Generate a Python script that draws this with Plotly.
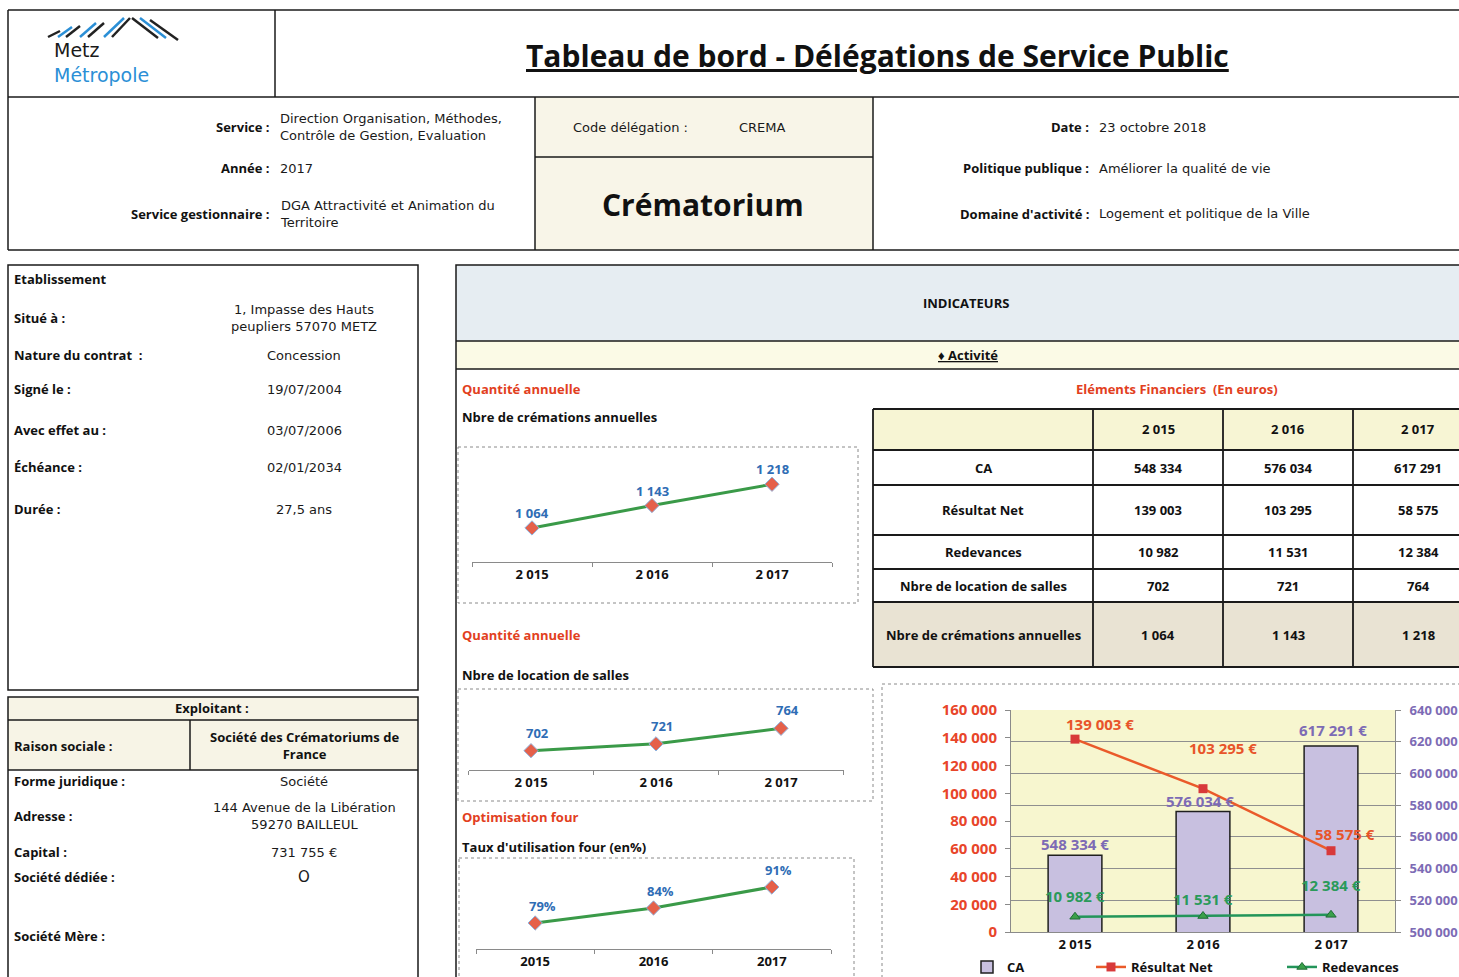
import plotly.graph_objects as go

W, H = 1459, 977
FONT = "Open Sans"
WIDE = "DejaVu Sans"

# ---------------- data ----------------
years = ["2 015", "2 016", "2 017"]
years_four = ["2015", "2016", "2017"]
cremations = [1064, 1143, 1218]
locations = [702, 721, 764]
taux_four = [79, 84, 91]
ca = [548334, 576034, 617291]
resultat_net = [139003, 103295, 58575]
redevances = [10982, 11531, 12384]
table_labels = ["CA", "Résultat Net", "Redevances", "Nbre de location de salles", "Nbre de crémations annuelles"]
table_values = [ca, resultat_net, redevances, locations, cremations]


def fmt(v):
    return f"{v:,}".replace(",", " ")


def X(p):
    return p / W


def Y(p):
    return 1 - p / H


shapes, anns = [], []
LBL = 13     # bold label size
VAL = 13     # value size


def line(x0, y0, x1, y1, color="#1a1a1a", width=1.5, dash="solid"):
    shapes.append(dict(type="line", xref="paper", yref="paper", x0=X(x0), y0=Y(y0), x1=X(x1), y1=Y(y1),
                       line=dict(color=color, width=width, dash=dash)))


def box(x0, y0, x1, y1, color="#1a1a1a", width=1.5, dash="solid"):
    shapes.append(dict(type="rect", xref="paper", yref="paper", x0=X(x0), y0=Y(y0), x1=X(x1), y1=Y(y1),
                       fillcolor="rgba(0,0,0,0)", line=dict(color=color, width=width, dash=dash)))


def fill(x0, y0, x1, y1, color):
    shapes.append(dict(type="rect", xref="paper", yref="paper", x0=X(x0), y0=Y(y0), x1=X(x1), y1=Y(y1),
                       fillcolor=color, line=dict(width=0), layer="below"))


def txt(x, y, s, size=LBL, color="#111111", bold=False, anchor="left", family=FONT, align=None):
    anns.append(dict(x=X(x), y=Y(y), xref="paper", yref="paper", text=f"<b>{s}</b>" if bold else s,
                     showarrow=False, xanchor=anchor, yanchor="middle", align=align or anchor,
                     font=dict(size=size, color=color, family=family)))


def val(x, y, s, anchor="left", size=VAL):
    txt(x, y, s, size=size, family=WIDE, anchor=anchor, color="#1a1a1a")


def dlabel(xa, ya, xi, yv, s, color, size=13, xs=0, ys=15):
    anns.append(dict(x=xi, y=yv, xref=xa, yref=ya, text=f"<b>{s}</b>", showarrow=False,
                     xanchor="center", yanchor="middle", xshift=xs, yshift=ys,
                     font=dict(size=size, color=color, family=FONT)))


# ---------------- header frame ----------------
line(8, 10, 1459, 10)
line(8, 10, 8, 250)
line(8, 97, 1459, 97)
line(275, 10, 275, 97)
line(8, 250, 1459, 250)
fill(535, 97, 873, 250, "#f8f5e8")
line(535, 97, 535, 250)
line(873, 97, 873, 250)
line(535, 157, 873, 157)

# logo
logo_blue = "#2b8fd6"
for (x0, y0, x1, y1, c) in [(48, 37, 60, 31, "#222"), (58, 37, 72, 27, logo_blue), (66, 37, 80, 26, "#222"),
                            (80, 37, 96, 23, logo_blue), (88, 37, 104, 23, "#222"), (104, 37, 124, 18, logo_blue),
                            (112, 37, 130, 18, "#222"), (132, 18, 158, 38, "#222"), (140, 18, 166, 38, logo_blue),
                            (150, 20, 178, 40, "#222")]:
    line(x0, y0, x1, y1, color=c, width=2.5)
txt(52, 63, f"Metz<br><span style='color:{logo_blue}'>Métropole</span>", size=19, color="#1a1a1a", family=WIDE)

anns.append(dict(x=X(878), y=Y(55), xref="paper", yref="paper",
                 text="<b><u>Tableau de bord - Délégations de Service Public</u></b>", showarrow=False,
                 xanchor="center", yanchor="middle", font=dict(size=30, color="#111", family=FONT)))

txt(272, 127, "Service :", bold=True, anchor="right")
val(278, 127, "Direction Organisation, Méthodes,<br>Contrôle de Gestion, Evaluation")
txt(272, 168, "Année :", bold=True, anchor="right")
val(278, 168, "2017")
txt(272, 214, "Service gestionnaire :", bold=True, anchor="right")
val(278, 214, "DGA Attractivité et Animation du<br>Territoire")

val(571, 127, "Code délégation :")
val(737, 127, "CREMA")
txt(703, 204, "Crématorium", size=30, bold=True, anchor="center")

txt(1091, 127, "Date :", bold=True, anchor="right")
val(1097, 127, "23 octobre 2018")
txt(1091, 168, "Politique publique :", bold=True, anchor="right")
val(1097, 168, "Améliorer la qualité de vie")
txt(1091, 214, "Domaine d'activité :", bold=True, anchor="right")
val(1097, 214, "Logement et politique de la Ville")

# ---------------- left panels ----------------
box(8, 265, 418, 690)
txt(12, 279, "Etablissement", bold=True)
left_rows = [(318, "Situé à :", "1, Impasse des Hauts<br>peupliers 57070 METZ"),
             (355, "Nature du contrat  :", "Concession"),
             (389, "Signé le :", "19/07/2004"),
             (430, "Avec effet au :", "03/07/2006"),
             (467, "Échéance :", "02/01/2034"),
             (509, "Durée :", "27,5 ans")]
for (yy, lab, v) in left_rows:
    txt(12, yy, lab, bold=True)
    val(304, yy, v, anchor="center")

fill(8, 697, 418, 770, "#f7f4e6")
box(8, 697, 418, 990)
line(8, 720, 418, 720)
line(8, 770, 418, 770)
line(190, 720, 190, 770)
txt(212, 708, "Exploitant :", bold=True, anchor="center")
txt(12, 746, "Raison sociale :", bold=True)
txt(304, 745, "<b>Société des Crématoriums de<br>France</b>", anchor="center")
exp_rows = [(781, "Forme juridique :", "Société"),
            (816, "Adresse :", "144 Avenue de la Libération<br>59270 BAILLEUL"),
            (852, "Capital :", "731 755 €"),
            (877, "Société dédiée :", "O"),
            (936, "Société Mère :", "")]
for (yy, lab, v) in exp_rows:
    txt(12, yy, lab, bold=True)
    if v:
        val(304, yy, v, anchor="center", size=15 if v == "O" else VAL)

# ---------------- indicators panel ----------------
fill(456, 265, 1459, 341, "#e6edf2")
fill(456, 341, 1459, 369, "#fbfae6")
box(456, 265, 1470, 990)
line(456, 341, 1459, 341)
line(456, 369, 1459, 369)
txt(966, 303, "INDICATEURS", bold=True, anchor="center")
txt(968, 355, "<u>♦ Activité</u>", bold=True, anchor="center")

RED = "#e2401e"
txt(460, 389, "Quantité annuelle", bold=True, color=RED)
txt(460, 417, "Nbre de crémations annuelles", bold=True)
txt(1177, 389, "Eléments Financiers  (En euros)", bold=True, color=RED, anchor="center")
txt(460, 635, "Quantité annuelle", bold=True, color=RED)
txt(460, 675, "Nbre de location de salles", bold=True)
txt(460, 817, "Optimisation four", bold=True, color=RED)
txt(460, 847, "Taux d'utilisation four (en%)", bold=True)

# chart boxes
box(458, 447, 858, 603, color="#8a8a8a", width=1, dash="dot")
box(458, 689, 873, 801, color="#8a8a8a", width=1, dash="dot")
box(459, 858, 854, 990, color="#8a8a8a", width=1, dash="dot")
box(882, 684, 1470, 990, color="#8a8a8a", width=1, dash="dot")

# ---------------- table ----------------
cols_x = [873, 1093, 1223, 1353, 1483]
rows_y = [409, 450, 485, 535, 569, 602, 667]
fill(873, 409, 1459, 450, "#f7f5d4")
fill(873, 602, 1459, 667, "#e9e3d3")
for yy in rows_y:
    line(873, yy, 1459, yy, width=1.8)
for xx in cols_x[:-1]:
    line(xx, 409, xx, 667, width=1.8)
for j, yr in enumerate(years):
    txt((cols_x[j + 1] + cols_x[j + 2]) / 2, (rows_y[0] + rows_y[1]) / 2, yr, bold=True, anchor="center")
for i, (lab, vals) in enumerate(zip(table_labels, table_values)):
    ym = (rows_y[i + 1] + rows_y[i + 2]) / 2
    txt((cols_x[0] + cols_x[1]) / 2, ym, lab, bold=True, anchor="center")
    for j, v in enumerate(vals):
        txt((cols_x[j + 1] + cols_x[j + 2]) / 2, ym, fmt(v), bold=True, anchor="center")

# ---------------- traces ----------------
GREEN = "#3a9a48"
BLUE = "#2f6db5"
fig = go.Figure()


def small_line(xs, ys, xa, ya):
    fig.add_trace(go.Scatter(x=xs, y=ys, xaxis=xa, yaxis=ya, mode="lines+markers", showlegend=False,
                             line=dict(color=GREEN, width=3),
                             marker=dict(symbol="diamond", size=11, color="#e5604a",
                                         line=dict(color="#8fb4e0", width=1))))


small_line(years, cremations, "x", "y")
small_line(years, locations, "x2", "y2")
small_line(years_four, taux_four, "x3", "y3")
for k, yv in enumerate(cremations):
    dlabel("x", "y", k, yv, fmt(yv), BLUE, ys=15)
for k, yv in enumerate(locations):
    dlabel("x2", "y2", k, yv, fmt(yv), BLUE, xs=6, ys=18)
for k, yv in enumerate(taux_four):
    dlabel("x3", "y3", k, yv, f"{yv}%", BLUE, xs=7, ys=17)

# combo chart
PURPLE = "#7d6bb5"
fill(1011, 710, 1395, 932, "#f7f6cf")
fig.add_trace(go.Bar(x=years, y=ca, xaxis="x4", yaxis="y4", name="CA", width=0.42, legend="legend",
                     marker=dict(color="#c8c0e0", line=dict(color="#1f1f1f", width=1.5))))
fig.add_trace(go.Scatter(x=years, y=resultat_net, xaxis="x4", yaxis="y5", name="Résultat Net", legend="legend2",
                         mode="lines+markers", line=dict(color="#ea5a2a", width=2.5),
                         marker=dict(symbol="square", size=9, color="#d8393a")))
fig.add_trace(go.Scatter(x=years, y=redevances, xaxis="x4", yaxis="y5", name="Redevances", legend="legend3",
                         mode="lines+markers", line=dict(color="#23955a", width=2.5),
                         marker=dict(symbol="triangle-up", size=9, color="#3aa04a", line=dict(color="#1d6b35", width=1))))

ca_shift = [(0, 11), (-3, 10), (2, 16)]
rn_shift = [(25, 15), (20, 41), (14, 17)]
rd_shift = [(0, 21), (0, 17), (0, 30)]
for k in range(len(years)):
    dlabel("x4", "y4", k, ca[k], fmt(ca[k]) + " €", PURPLE, size=15, xs=ca_shift[k][0], ys=ca_shift[k][1])
    dlabel("x4", "y5", k, resultat_net[k], fmt(resultat_net[k]) + " €", "#e8542a", size=15,
           xs=rn_shift[k][0], ys=rn_shift[k][1])
    dlabel("x4", "y5", k, redevances[k], fmt(redevances[k]) + " €", "#2a9a5a", size=15,
           xs=rd_shift[k][0], ys=rd_shift[k][1])

AX = dict(showgrid=False, zeroline=False, automargin=False)
small_x = dict(type="category", range=[-0.5, 2.5], showline=True, linecolor="#8a8a8a", linewidth=1,
               ticks="outside", tickson="boundaries", ticklen=4, tickcolor="#8a8a8a",
               tickfont=dict(size=13, color="#111", family=FONT, weight="bold"), **AX)
legend_common = dict(xanchor="left", yanchor="middle", orientation="h", bgcolor="rgba(0,0,0,0)",
                     font=dict(size=13, family=FONT, weight="bold", color="#111"))

fig.update_layout(
    width=W, height=H, margin=dict(l=0, r=0, t=0, b=0, autoexpand=False),
    paper_bgcolor="white", plot_bgcolor="rgba(0,0,0,0)", separators=", ",
    font=dict(family=FONT, size=13, color="#111"),
    xaxis=dict(domain=[X(472), X(832)], anchor="y", **small_x),
    yaxis=dict(domain=[Y(562), Y(455)], anchor="x", range=[944, 1321], visible=False, automargin=False),
    xaxis2=dict(domain=[X(468.5), X(843.5)], anchor="y2", **small_x),
    yaxis2=dict(domain=[Y(770), Y(697)], anchor="x2", range=[648.5, 850.8], visible=False, automargin=False),
    xaxis3=dict(domain=[X(476), X(831)], anchor="y3", **small_x),
    yaxis3=dict(domain=[Y(949), Y(866)], anchor="x3", range=[70.33, 98], visible=False, automargin=False),
    xaxis4=dict(domain=[X(1011), X(1395)], anchor="y4", type="category", range=[-0.5, 2.5],
                showline=True, linecolor="#8a8a8a", ticks="", showgrid=False, zeroline=False, automargin=False,
                tickfont=dict(size=13, color="#111", family=FONT, weight="bold")),
    yaxis4=dict(domain=[Y(932), Y(710)], anchor="x4", side="right", range=[500000, 640000], dtick=20000,
                tickformat=",d", showgrid=True, gridcolor="#8f8f8f", gridwidth=1, zeroline=False, automargin=False,
                showline=True, linecolor="#8a8a8a", ticks="outside", ticklen=5, tickcolor="#8a8a8a",
                ticklabelstandoff=6,
                tickfont=dict(size=13, color=PURPLE, family=FONT, weight="bold")),
    yaxis5=dict(overlaying="y4", anchor="x4", side="left", range=[0, 160000], dtick=20000, tickformat=",d",
                showgrid=False, zeroline=False, showline=True, linecolor="#8a8a8a", ticks="outside", ticklen=5,
                tickcolor="#8a8a8a", automargin=False, ticklabelstandoff=5,
                tickfont=dict(size=15, color="#e8452a", family=FONT, weight="bold")),
    legend=dict(x=X(967), y=Y(967), **legend_common),
    legend2=dict(x=X(1091), y=Y(967), **legend_common),
    legend3=dict(x=X(1282), y=Y(967), **legend_common),
    shapes=shapes, annotations=anns,
)

pin = ("var d=document.getElementById('{plot_id}');"
       "d.style.position='fixed';d.style.left='0px';d.style.top='0px';"
       "document.body.style.margin='0';document.body.style.overflow='hidden';")
fig.write_html("out.html", post_script=pin, config={"displayModeBar": False})
